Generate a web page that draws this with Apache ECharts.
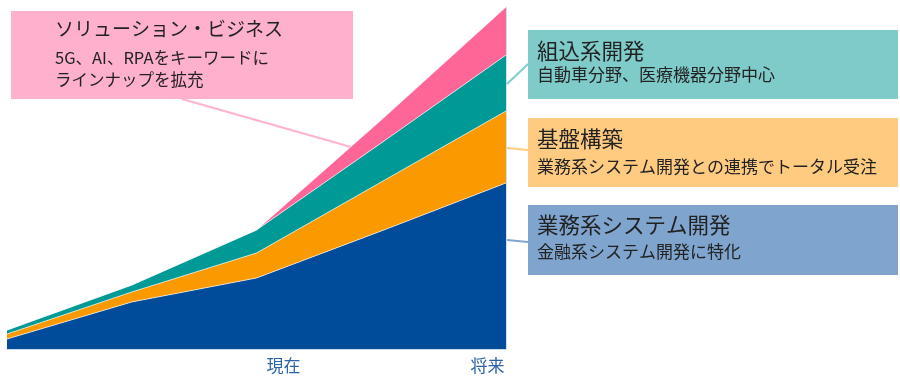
<!DOCTYPE html>
<html><head><meta charset="utf-8">
<script src="https://cdn.jsdelivr.net/npm/echarts@6/dist/echarts.min.js"></script>
<style>html,body{margin:0;padding:0;background:#fff}#c{width:900px;height:380px}</style>
</head><body><div id="c"></div>
<script>
var categories = ['', '', '現在', '', '将来'];
var gyomu   = [10, 47, 71, 118, 166];
var kiban   = [5, 10, 25, 49, 72];
var kumikomi = [4, 7, 23, 39, 56];
var solution = [0, 0, 0, 23, 48];

var FONT = '"Noto Sans CJK JP", "Noto Sans", sans-serif';
var chart = echarts.init(document.getElementById('c'));
function area(name, data, color) {
  return {
    name: name, type: 'line', stack: 'all', data: data, symbol: 'none', smooth: false,
    lineStyle: {color: '#ffffff', width: 0.8, opacity: 0.8},
    areaStyle: {color: color, opacity: 1},
    itemStyle: {color: color}
  };
}
function box(x, y, w, h, fill, title, lines, tx, ty, ly, tsize, lsize) {
  var els = [{type: 'rect', shape: {x: x, y: y, width: w, height: h}, style: {fill: fill}, z: 10},
    {type: 'text', x: tx, y: ty, style: {text: title, font: tsize + 'px ' + FONT, fill: '#222', textVerticalAlign: 'middle'}, z: 11}];
  lines.forEach(function (l, i) {
    els.push({type: 'text', x: tx, y: ly[i], style: {text: l, font: lsize + 'px ' + FONT, fill: '#222', textVerticalAlign: 'middle'}, z: 11});
  });
  return els;
}
var graphics = [].concat(
  [{type: 'line', shape: {x1: 182, y1: 99, x2: 351, y2: 147}, style: {stroke: '#ffb3cc', lineWidth: 2}, z: 9},
   {type: 'line', shape: {x1: 507, y1: 84, x2: 528, y2: 64}, style: {stroke: '#80cccb', lineWidth: 2}, z: 9},
   {type: 'line', shape: {x1: 507, y1: 148, x2: 528, y2: 150}, style: {stroke: '#ffcc80', lineWidth: 2}, z: 9},
   {type: 'line', shape: {x1: 507, y1: 240, x2: 528, y2: 242}, style: {stroke: '#80a6d0', lineWidth: 2}, z: 9}],
  box(11, 11, 342, 88, '#ffb0cc', 'ソリューション・ビジネス', ['5G、AI、RPAをキーワードに', 'ラインナップを拡充'], 55, 29, [58, 80], 19, 16.5),
  box(528, 30, 370, 69, '#7fcbca', '組込系開発', ['自動車分野、医療機器分野中心'], 537, 51, [75], 21.5, 17),
  box(528, 118, 370, 69, '#ffcb80', '基盤構築', ['業務系システム開発との連携でトータル受注'], 537, 139, [167], 21.5, 17),
  box(528, 205, 370, 70, '#7fa5cf', '業務系システム開発', ['金融系システム開発に特化'], 537, 225, [252], 21.5, 17)
);
chart.setOption({
  animation: false,
  grid: {left: 7, right: 394, top: 7, bottom: 31},
  xAxis: {
    type: 'category', data: categories, boundaryGap: false,
    axisLine: {lineStyle: {color: '#b8cfe8', width: 1.5}},
    axisTick: {show: false},
    axisLabel: {
      interval: 0, margin: 8,
      formatter: function (v) { return v === '現在' ? '{a|' + v + '}' : (v === '将来' ? '{b|' + v + '}' : v); },
      rich: {
        a: {fontSize: 17, color: '#2f64a8', fontFamily: FONT, padding: [0, 0, 0, 54]},
        b: {fontSize: 17, color: '#2f64a8', fontFamily: FONT, padding: [0, 37, 0, 0]}
      }
    }
  },
  yAxis: [{type: 'value', min: 0, max: 342, show: false},
          {type: 'value', min: 0, max: 342, position: 'right', axisLine: {show: true, lineStyle: {color: '#cfe0f0', width: 1}}, axisLabel: {show: false}, axisTick: {show: false}, splitLine: {show: false}}],
  series: [
    area('業務系システム開発', gyomu, '#004c9b'),
    area('基盤構築', kiban, '#fb9900'),
    area('組込系開発', kumikomi, '#009a96'),
    area('ソリューション・ビジネス', solution, '#fe6698')
  ],
  graphic: graphics
});
</script></body></html>
